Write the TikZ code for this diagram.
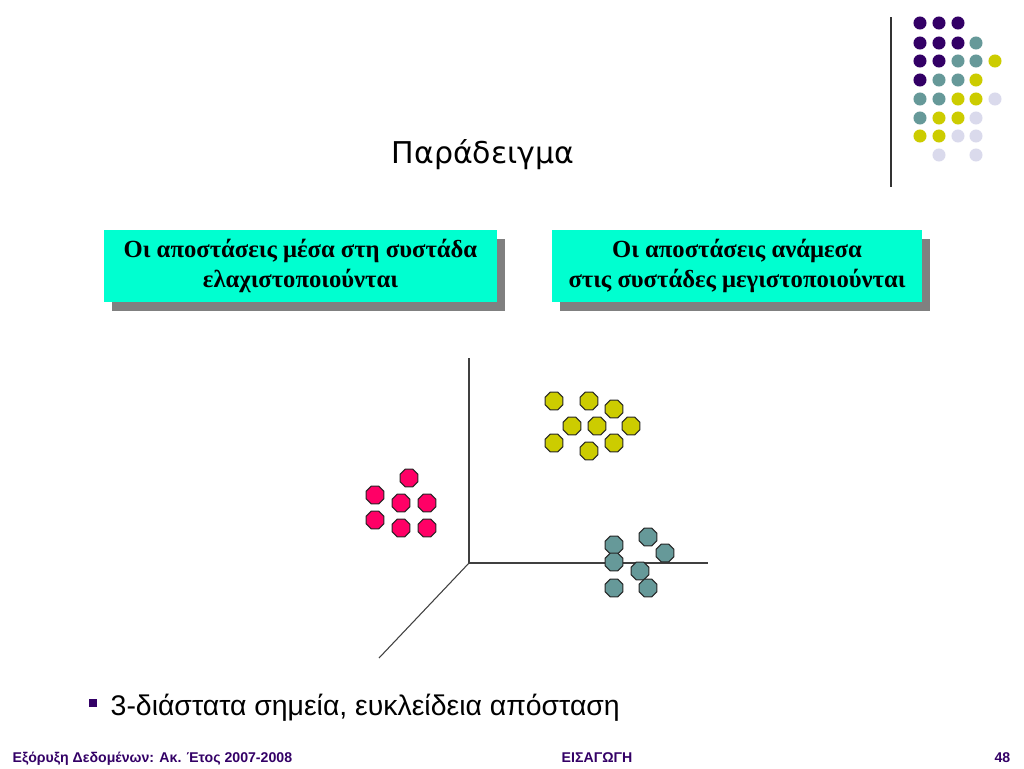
\documentclass[tikz,border=0pt]{standalone}
\usepackage{fontspec}
\setmainfont{Liberation Serif}
\newfontfamily\titlefont{DejaVu Sans}
\newfontfamily\narrowfont{Liberation Sans}
\usetikzlibrary{shapes.geometric,shadows}
\definecolor{dotpurple}{RGB}{51,0,102}
\definecolor{dotteal}{RGB}{102,153,153}
\definecolor{dotyellow}{RGB}{204,204,0}
\definecolor{dotlilac}{RGB}{218,218,236}
\definecolor{boxcyan}{RGB}{0,255,208}
\definecolor{ptpink}{RGB}{255,0,102}
\definecolor{footpurple}{RGB}{51,0,102}
\tikzset{
  pt/.style={regular polygon, regular polygon sides=8, draw=black!85, line width=0.7pt, minimum size=14.5pt, inner sep=0pt},
  deco/.style={circle, inner sep=0pt, minimum size=9.8pt},
  goalbox/.style={fill=boxcyan, inner sep=0pt, minimum height=54pt, align=center,
    font=\fontsize{18.5}{23}\selectfont\bfseries,
    drop shadow={shadow xshift=6pt, shadow yshift=-6.75pt, fill=black!50, opacity=1}},
  axis/.style={draw=black!75, line width=0.8pt},
  foot/.style={text=footpurple, font=\narrowfont\fontsize{10.6}{12}\selectfont\bfseries}
}
\begin{document}
\begin{tikzpicture}[x=0.75pt,y=-0.75pt,line join=round]
	\useasboundingbox (0,0) rectangle (1024,768);
	% decoration top right
	\coordinate (bartop) at (891,17);
	\coordinate (barbot) at (891,187);
	\draw[black!80, line width=0.8pt] (bartop)--(barbot);
	\foreach \cx/\cy/\col [count=\k] in {
		920/23/dotpurple, 939/23/dotpurple, 958/23/dotpurple,
		920/43/dotpurple, 939/43/dotpurple, 958/43/dotpurple, 976/43/dotteal,
		920/61/dotpurple, 939/61/dotpurple, 958/61/dotteal, 976/61/dotteal, 995/61/dotyellow,
		920/80/dotpurple, 939/80/dotteal, 958/80/dotteal, 976/80/dotyellow,
		920/99/dotteal, 939/99/dotteal, 958/99/dotyellow, 976/99/dotyellow, 995/99/dotlilac,
		920/118/dotteal, 939/118/dotyellow, 958/118/dotyellow, 976/118/dotlilac,
		920/136/dotyellow, 939/136/dotyellow, 958/136/dotlilac, 976/136/dotlilac,
		939/155/dotlilac, 976/155/dotlilac}
		\node[deco, fill=\col] (d\k) at (\cx,\cy) {};
	% title
	\node[font=\titlefont\fontsize{22.5}{26}\selectfont] (title) at (483,155) {Παράδειγμα};
	% the two boxes
	\node[goalbox, minimum width=294.75pt] (within) at (300.5,266) {Οι αποστάσεις μέσα στη συστάδα\\ελαχιστοποιούνται};
	\node[goalbox, minimum width=277.5pt] (between) at (737,266) {Οι αποστάσεις ανάμεσα\\στις συστάδες μεγιστοποιούνται};
	% axes
	\coordinate (o) at (469,563);
	\coordinate (ytop) at (469,358);
	\coordinate (xend) at (708,563);
	\coordinate (zend) at (379,658);
	\draw[axis] (ytop)--(o)--(xend);
	\draw[axis] (o)--(zend);
	% clusters
	\foreach \px/\py [count=\k] in {409/478, 375/495, 401/503, 427/503, 375/520, 401/528, 427/528}
		\node[pt, fill=ptpink] (r\k) at (\px,\py) {};
	\foreach \px/\py [count=\k] in {554/401, 589/401, 614/409, 572/426, 597/426, 631/426, 554/443, 589/451, 614/443}
		\node[pt, fill=dotyellow] (y\k) at (\px,\py) {};
	\foreach \px/\py [count=\k] in {648/537, 614/545, 665/553, 614/562, 640/571, 614/588, 648/588}
		\node[pt, fill=dotteal] (t\k) at (\px,\py) {};
	% bullet
	\node[fill=dotpurple, minimum size=6pt, inner sep=0pt] (bsq) at (93,703) {};
	\node[anchor=base west, font=\narrowfont\fontsize{21.3}{25}\selectfont] (btxt) at (106,715) {3-διάστατα σημεία, ευκλείδεια απόσταση};
	% footer
	\node[foot, anchor=base west] (fleft) at (8,762) {Εξόρυξη Δεδομένων: Ακ. Έτος 2007-2008};
	\node[foot, anchor=base] (fmid) at (597,762) {ΕΙΣΑΓΩΓΗ};
	\node[foot, anchor=base east] (fright) at (1015,762) {48};
\end{tikzpicture}
\end{document}
